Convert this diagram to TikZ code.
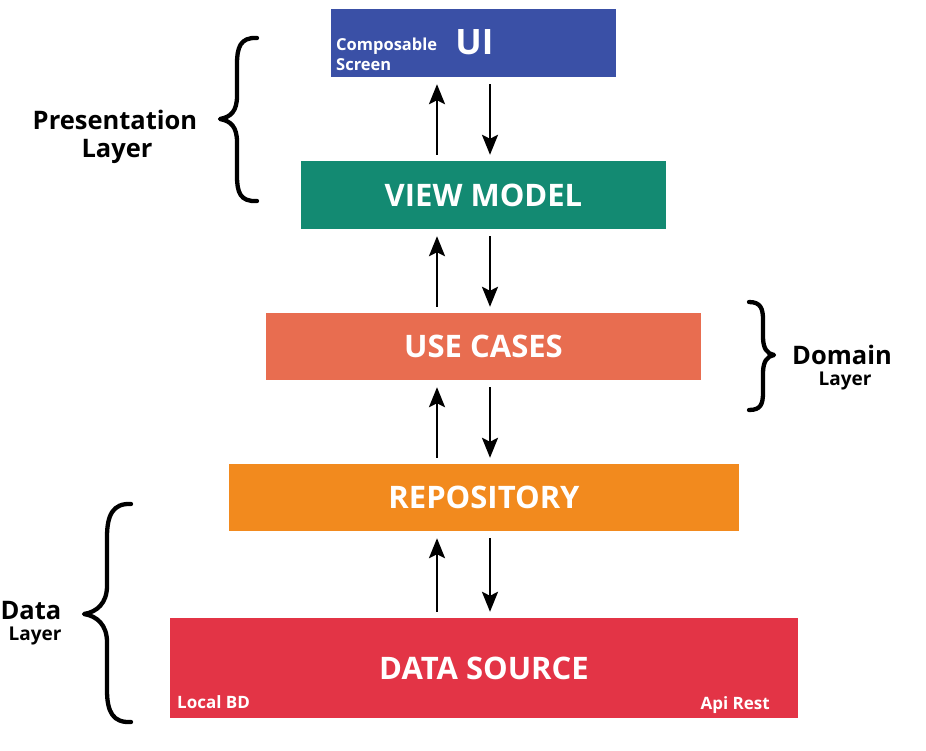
\documentclass[tikz,border=0pt]{standalone}
\usepackage{fontspec}
\setmainfont{Open Sans}
\usetikzlibrary{arrows.meta}
\definecolor{uiblue}{HTML}{3A50A6}
\definecolor{vmteal}{HTML}{138A72}
\definecolor{ucsalmon}{HTML}{E86D50}
\definecolor{repoorange}{HTML}{F28A1E}
\definecolor{dsred}{HTML}{E33446}
\tikzset{
  layerbox/.style={draw=none, inner sep=0pt, text=white, font=\bfseries\fontsize{31}{33}\selectfont},
  arr/.style={line width=2.6pt, -{Stealth[length=20pt, width=16pt, inset=4pt]}},
  bracestroke/.style={line width=4.3pt, line cap=round, line join=round},
  sidelabel/.style={inner sep=0pt, font=\bfseries\fontsize{25.5}{27}\selectfont},
  smalllabel/.style={inner sep=0pt, font=\bfseries\fontsize{19}{21}\selectfont},
  innerlabel/.style={inner sep=0pt, text=white, font=\bfseries\fontsize{16.5}{18}\selectfont, align=left}
}
\begin{document}
\begin{tikzpicture}[x=1pt,y=-1pt]
\useasboundingbox (0,0) rectangle (926,750);
\fill[white] (0,0) rectangle (926,750);
% boxes
\node[layerbox, fill=uiblue, minimum width=285pt, minimum height=68pt] (ui) at (473.5,43) {};
\node[layerbox, fill=vmteal, minimum width=365pt, minimum height=68pt] (vm) at (483.5,195) {VIEW MODEL};
\node[layerbox, fill=ucsalmon, minimum width=435pt, minimum height=67pt] (uc) at (483.5,346.5) {USE CASES};
\node[layerbox, fill=repoorange, minimum width=510pt, minimum height=67pt] (repo) at (484,497.5) {REPOSITORY};
\node[layerbox, fill=dsred, minimum width=628pt, minimum height=100pt] (ds) at (484,668) {DATA SOURCE};
% inner texts
\node[inner sep=0pt, text=white, font=\bfseries\fontsize{35}{37}\selectfont] (uitxt) at (474.5,42) {UI};
\node[innerlabel, anchor=west] (comp) at (336,46) {Composable};
\node[innerlabel, anchor=west] (scr) at (336,65) {Screen};
\node[innerlabel, font=\bfseries\fontsize{17}{19}\selectfont, anchor=west] (local) at (177,702) {Local BD};
\node[innerlabel, font=\bfseries\fontsize{17}{19}\selectfont, anchor=east] (api) at (770,705) {Api Rest};
% arrows
\coordinate (upx) at (437,0);
\coordinate (dnx) at (490,0);
\foreach \lo/\hi in {vm/ui, uc/vm, repo/uc, ds/repo}{
  \draw[arr, shorten <=6pt, shorten >=7pt] (\lo.north -| upx) -- (\hi.south -| upx);
  \draw[arr, shorten <=7pt, shorten >=6pt] (\hi.south -| dnx) -- (\lo.north -| dnx);
}
% presentation brace
\draw[bracestroke] (257,38) .. controls (240,37) and (237,48) .. (237,64)
  -- (237,96) .. controls (237,111) and (231,117) .. (220,119)
  .. controls (231,121) and (237,127) .. (237,142)
  -- (237,176) .. controls (237,192) and (240,202) .. (257,201);
\node[sidelabel] (pres) at (115,120) {Presentation};
\node[sidelabel] (presl) at (117,151) {Layer};
% domain brace
\draw[bracestroke] (749,302) .. controls (761,302) and (763,309) .. (763,320)
  -- (763,337) .. controls (763,348) and (767,354) .. (774,355)
  .. controls (767,356) and (763,362) .. (763,373)
  -- (763,392) .. controls (763,404) and (761,410) .. (749,410);
\node[sidelabel] (dom) at (842,355) {Domain};
\node[smalllabel] (doml) at (845,381) {Layer};
% data brace
\draw[bracestroke] (131,504) .. controls (113,503) and (107,515) .. (107,537)
  -- (107,586) .. controls (107,603) and (97,612) .. (84,614)
  .. controls (97,616) and (107,625) .. (107,642)
  -- (107,690) .. controls (107,712) and (113,723) .. (131,722);
\node[sidelabel] (data) at (31,611) {Data};
\node[smalllabel] (datal) at (35,636) {Layer};
\end{tikzpicture}
\end{document}
